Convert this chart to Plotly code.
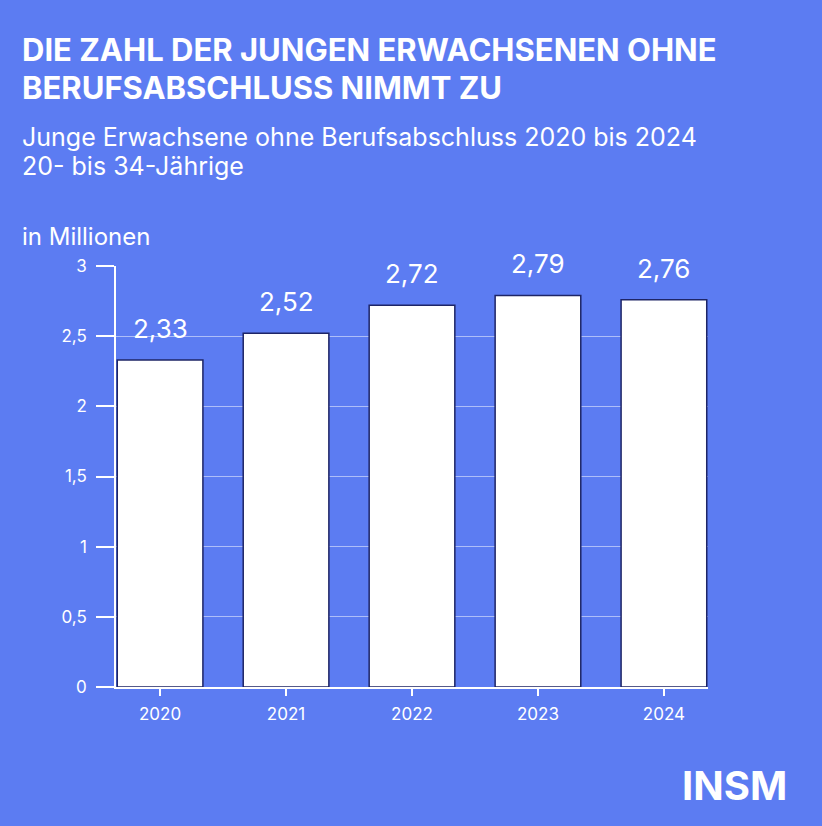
import plotly.graph_objects as go

years = ["2020", "2021", "2022", "2023", "2024"]
values = [2.33, 2.52, 2.72, 2.79, 2.76]
value_labels = ["2,33", "2,52", "2,72", "2,79", "2,76"]
y_ticks = [0, 0.5, 1, 1.5, 2, 2.5, 3]
y_ticktext = ["0", "0,5", "1", "1,5", "2", "2,5", "3"]

bg = "#5c7cf2"
white = "#ffffff"
font = "Inter"

# plot area in pixels: x 116..708, y 266..687
L, R, T, B = 116, 708, 266, 687
W, H = R - L, B - T


def px_x(x):
    return (x - L) / W


def px_y(y):
    return (B - y) / H


fig = go.Figure()
fig.add_trace(go.Bar(
    x=years, y=values,
    marker=dict(color=white, line=dict(color="#1e2566", width=1.5)),
    width=0.68,
    hoverinfo="skip",
))

# value labels above the bars (x as category index)
for i, (v, lab) in enumerate(zip(values, value_labels)):
    fig.add_annotation(x=i, y=v, text=lab, showarrow=False, yanchor="bottom",
                       yshift=14, font=dict(family=font, size=26, color=white))

texts = [
    ("DIE ZAHL DER JUNGEN ERWACHSENEN OHNE", 49, 31, True),
    ("BERUFSABSCHLUSS NIMMT ZU", 88, 31, True),
    ("Junge Erwachsene ohne Berufsabschluss 2020 bis 2024", 137, 25, False),
    ("20- bis 34-Jährige", 166, 25, False),
    ("in Millionen", 236, 24, False),
]
for t, yc, sz, bold in texts:
    fig.add_annotation(xref="paper", yref="paper", x=px_x(20), y=px_y(yc),
                       xanchor="left", yanchor="middle", showarrow=False,
                       text="<b>%s</b>" % t if bold else t,
                       font=dict(family=font, size=sz, color=white))

fig.add_annotation(xref="paper", yref="paper", x=px_x(789), y=px_y(785),
                   xanchor="right", yanchor="middle", showarrow=False,
                   text="<b>INSM</b>", font=dict(family=font, size=40, color=white))

fig.update_layout(
    width=822, height=826,
    margin=dict(l=L, r=822 - R, t=T, b=826 - B),
    paper_bgcolor=bg, plot_bgcolor=bg,
    showlegend=False,
)
fig.update_xaxes(
    type="category", range=[-0.35, 4.35],
    showline=True, linecolor=white, linewidth=1.5,
    ticks="outside", ticklen=7, tickcolor=white, tickwidth=1.5,
    tickfont=dict(family=font, size=17, color=white),
    ticklabelstandoff=4,
    showgrid=False,
)
fig.update_yaxes(
    range=[0, 3], tickvals=y_ticks, ticktext=y_ticktext,
    showline=True, linecolor=white, linewidth=1.5,
    ticks="outside", ticklen=18, tickcolor=white, tickwidth=1.5,
    tickfont=dict(family=font, size=17, color=white),
    ticklabelstandoff=6,
    showgrid=True, gridcolor="rgba(255,255,255,0.5)", gridwidth=1,
    zeroline=False,
)

fig.write_html("out.html", config={"displayModeBar": False},
               post_script="document.body.style.margin='0';")
